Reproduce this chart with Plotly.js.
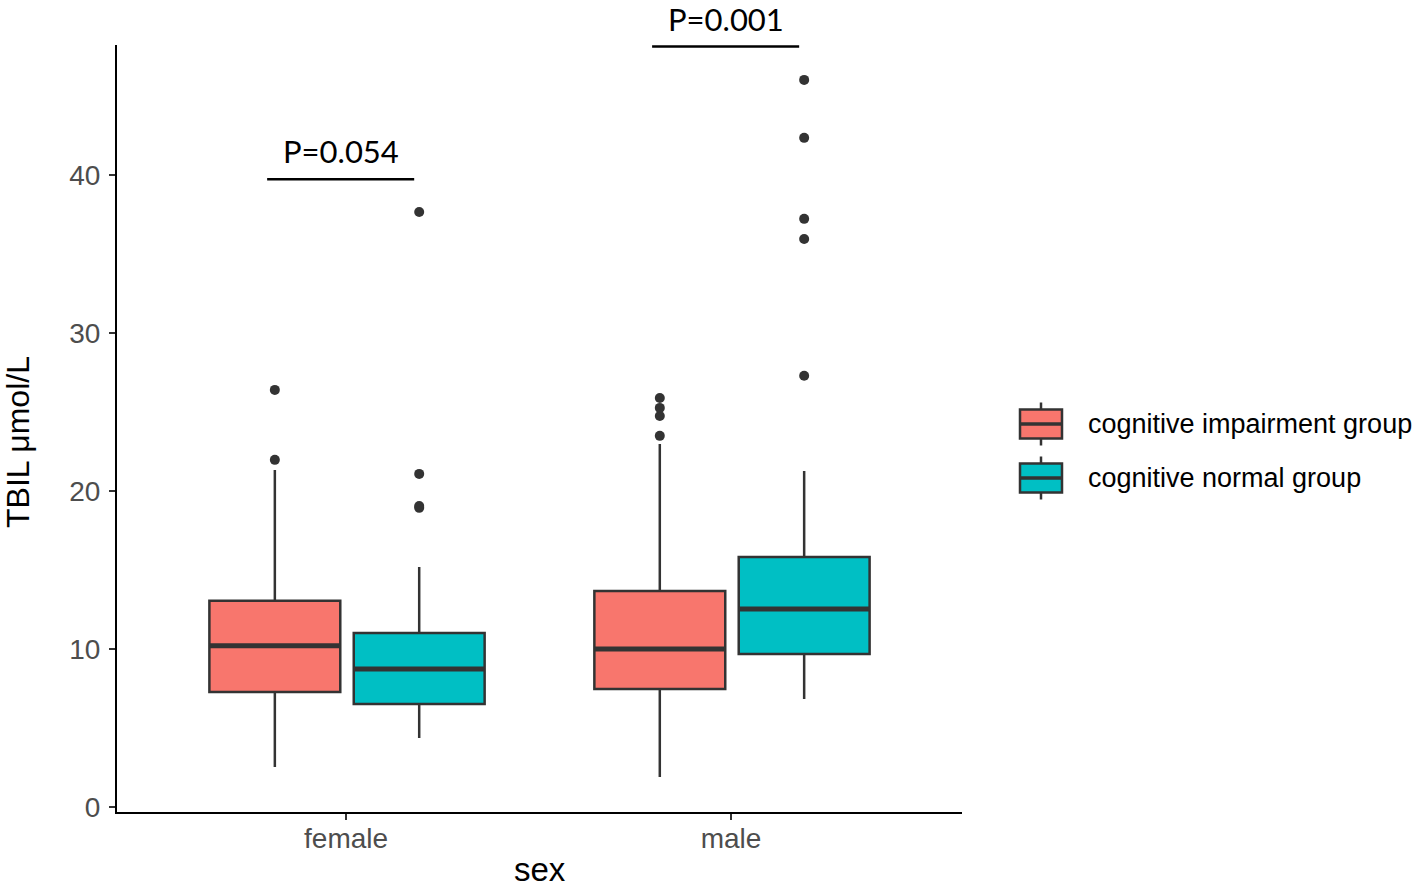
<!DOCTYPE html>
<html>
<head>
<meta charset="utf-8">
<script src="https://cdn.plot.ly/plotly-3.0.1.min.js"></script>
<style>html,body{margin:0;padding:0;background:#fff;}#chart{width:1418px;height:889px;}</style>
</head>
<body>
<div id="chart"></div>
<script>
// ---- data ----
const categories = ['female', 'male'];
const groups = ['cognitive impairment group', 'cognitive normal group'];
const groupColors = ['#F8766D', '#00BFC4'];

// per group, per category
const q1Vals      = [[7.28, 7.47], [6.52, 9.69]];
const medianVals  = [[10.2, 10.0], [8.74, 12.54]];
const q3Vals      = [[13.05, 13.68], [11.02, 15.83]];
const lowerVals   = [[2.53, 1.9], [4.37, 6.84]];
const upperVals   = [[21.34, 22.99], [15.2, 21.28]];
const outliersImpairment = [[21.98, 26.41], [23.5, 24.76, 25.27, 25.9]];
const outliersNormal     = [[18.94, 19.06, 21.09, 37.68], [27.3, 35.97, 37.24, 42.37, 46.04]];
const outlierVals = [outliersImpairment, outliersNormal];

// significance brackets
const pLabels   = ['P=0.054', 'P=0.001'];
const bracketY  = [39.75, 48.15];

// ---- layout constants ----
const L = 117, R = 962, T = 45, B = 812, W = 1418, H = 889;
const dodge = [-0.185, 0.19];
const boxW = 0.34;
const edge = '#333333';
const px2x = p => (p - L) / (R - L);
const px2y = p => (B - p) / (B - T);

const traces = [];
groups.forEach((g, gi) => {
  const xs = categories.map((c, ci) => ci + dodge[gi]);
  traces.push({
    type: 'box', name: g, x: xs,
    q1: q1Vals[gi], median: medianVals[gi], q3: q3Vals[gi],
    lowerfence: lowerVals[gi], upperfence: upperVals[gi],
    width: boxW, whiskerwidth: 0, boxpoints: false,
    fillcolor: groupColors[gi], line: {color: edge, width: 2.5},
    showlegend: false, hoverinfo: 'skip'
  });
  // thicker median line
  const mx = [], my = [];
  categories.forEach((c, ci) => {
    mx.push(ci + dodge[gi] - boxW / 2, ci + dodge[gi] + boxW / 2, null);
    my.push(medianVals[gi][ci], medianVals[gi][ci], null);
  });
  traces.push({type: 'scatter', mode: 'lines', x: mx, y: my,
    line: {color: edge, width: 5}, showlegend: false, hoverinfo: 'skip'});
  // outliers
  const ox = [], oy = [];
  categories.forEach((c, ci) => {
    outlierVals[gi][ci].forEach(v => { ox.push(ci + dodge[gi]); oy.push(v); });
  });
  traces.push({type: 'scatter', mode: 'markers', x: ox, y: oy,
    marker: {color: edge, size: 10}, showlegend: false, hoverinfo: 'skip', cliponaxis: false});
});

const shapes = [];
const annotations = [];
categories.forEach((c, ci) => {
  const x0 = ci + dodge[0] - 0.02, x1 = ci + dodge[1] - 0.013;
  shapes.push({type: 'line', xref: 'x', yref: 'y', x0: x0, x1: x1, y0: bracketY[ci], y1: bracketY[ci],
    line: {color: '#000', width: 2.5}});
  annotations.push({xref: 'x', yref: 'y', x: (x0 + x1) / 2, y: bracketY[ci], text: pLabels[ci],
    showarrow: false, yanchor: 'bottom', yshift: 8, borderpad: 0,
    font: {family: 'Lato, Noto Sans, sans-serif', size: 31, color: '#000'}});
});

// axis titles
annotations.push({xref: 'paper', yref: 'paper', x: 0.5, y: px2y(889), text: 'sex', showarrow: false,
  xanchor: 'center', yanchor: 'bottom', borderpad: 0, font: {family: 'Liberation Sans, Arial, sans-serif', size: 33, color: '#000'}});
annotations.push({xref: 'paper', yref: 'paper', x: px2x(18), y: px2y(442), text: 'TBIL μmol/L', showarrow: false,
  textangle: -90, xanchor: 'center', yanchor: 'middle', font: {family: 'Liberation Sans, Arial, sans-serif', size: 32, color: '#000'}});

// legend (drawn from groups/colors)
groups.forEach((g, gi) => {
  const cy = 424 + gi * 54;
  shapes.push({type: 'rect', xref: 'paper', yref: 'paper', x0: px2x(1020), x1: px2x(1062), y0: px2y(cy - 14.5), y1: px2y(cy + 14.5),
    fillcolor: groupColors[gi], line: {color: edge, width: 2.5}});
  shapes.push({type: 'line', xref: 'paper', yref: 'paper', x0: px2x(1020), x1: px2x(1062), y0: px2y(cy), y1: px2y(cy),
    line: {color: edge, width: 3.5}});
  shapes.push({type: 'line', xref: 'paper', yref: 'paper', x0: px2x(1041), x1: px2x(1041), y0: px2y(cy - 21.5), y1: px2y(cy - 14.5),
    line: {color: edge, width: 2.5}});
  shapes.push({type: 'line', xref: 'paper', yref: 'paper', x0: px2x(1041), x1: px2x(1041), y0: px2y(cy + 14.5), y1: px2y(cy + 21.5),
    line: {color: edge, width: 2.5}});
  annotations.push({xref: 'paper', yref: 'paper', x: px2x(1086), y: px2y(cy), text: g, showarrow: false,
    xanchor: 'left', yanchor: 'middle', font: {family: 'Liberation Sans, Arial, sans-serif', size: 27, color: '#000'}});
});

const layout = {
  width: W, height: H,
  margin: {l: L, r: W - R, t: T, b: H - B, pad: 0},
  paper_bgcolor: '#fff', plot_bgcolor: '#fff',
  showlegend: false, boxmode: 'overlay',
  xaxis: {
    range: [-0.595, 1.6], tickvals: categories.map((c, i) => i), ticktext: categories,
    showgrid: false, zeroline: false, showline: true, linecolor: '#000', linewidth: 2,
    ticks: 'outside', ticklen: 6, tickwidth: 2, tickcolor: edge, ticklabelstandoff: -6,
    tickfont: {family: 'Liberation Sans, Arial, sans-serif', size: 28, color: '#4D4D4D'}
  },
  yaxis: {
    range: [-0.32, 48.25], tickvals: [0, 10, 20, 30, 40],
    showgrid: false, zeroline: false, showline: true, linecolor: '#000', linewidth: 2,
    ticks: 'outside', ticklen: 6, tickwidth: 2, tickcolor: edge, ticklabelstandoff: 3,
    tickfont: {family: 'Liberation Sans, Arial, sans-serif', size: 28, color: '#4D4D4D'}
  },
  shapes: shapes, annotations: annotations
};

Plotly.newPlot('chart', traces, layout, {displayModeBar: false, staticPlot: true});
</script>
</body>
</html>
